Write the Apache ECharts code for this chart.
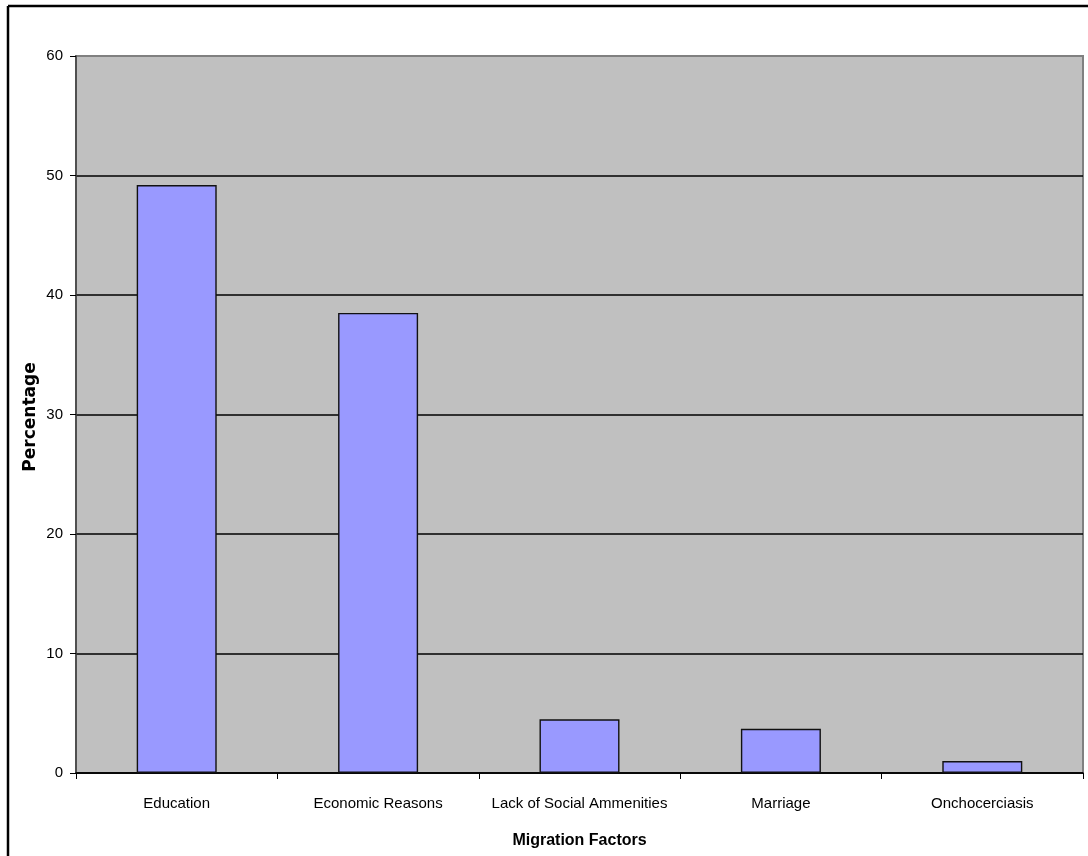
<!DOCTYPE html>
<html>
<head>
<meta charset="utf-8">
<script src="https://cdn.jsdelivr.net/npm/echarts@6/dist/echarts.min.js"></script>
<style>
html,body{margin:0;padding:0;background:#fff;}
#chart{width:1088px;height:856px;}
</style>
</head>
<body>
<div id="chart"></div>
<script>
var categories = ['Education', 'Economic Reasons', 'Lack of Social Ammenities', 'Marriage', 'Onchocerciasis'];
var percentages = [49.2, 38.5, 4.5, 3.7, 1.0];
var yTicks = { min: 0, max: 60, interval: 10 };
var xTitle = 'Migration Factors';
var yTitle = 'Percentage';

var FONT = "'Liberation Sans', Arial, sans-serif";
var chart = echarts.init(document.getElementById('chart'), null, { renderer: 'canvas' });
chart.setOption({
  backgroundColor: '#ffffff',
  animation: false,
  grid: {
    left: 76, top: 56, width: 1007, height: 717,
    show: true, backgroundColor: '#C0C0C0', borderColor: '#808080', borderWidth: 2
  },
  xAxis: {
    type: 'category',
    data: categories,
    boundaryGap: true,
    name: xTitle,
    nameLocation: 'middle',
    nameGap: 60,
    nameTextStyle: { fontFamily: FONT, fontWeight: 'bold', fontSize: 16, color: '#000' },
    axisLine: { lineStyle: { color: '#000', width: 1.5 } },
    axisTick: { show: true, alignWithLabel: false, length: 6, lineStyle: { color: '#000' } },
    axisLabel: { fontFamily: FONT, fontSize: 15, color: '#000', margin: 23, interval: 0 },
    splitLine: { show: false }
  },
  yAxis: {
    type: 'value',
    min: yTicks.min, max: yTicks.max, interval: yTicks.interval,
    axisLine: { show: true, lineStyle: { color: '#404040', width: 1.5 } },
    axisTick: { show: true, length: 6, lineStyle: { color: '#000' } },
    axisLabel: { fontFamily: FONT, fontSize: 15, color: '#000', margin: 13 },
    splitLine: { show: true, showMaxLine: false, lineStyle: { color: '#000', width: 1.5 } }
  },
  series: [{
    type: 'bar',
    data: percentages,
    barWidth: 80,
    itemStyle: { color: '#9999FF', borderColor: '#111', borderWidth: 1.4 }
  }],
  graphic: [
    { type: 'line', shape: { x1: 8, y1: 6, x2: 8, y2: 856 }, style: { stroke: '#000', lineWidth: 2.5 }, z: 100 },
    { type: 'line', shape: { x1: 8, y1: 6, x2: 1088, y2: 6 }, style: { stroke: '#000', lineWidth: 2.5 }, z: 100 },
    { type: 'text', x: 31, y: 417, rotation: Math.PI / 2, z: 100,
      style: { text: yTitle, font: "bold 17px 'DejaVu Sans', sans-serif", fill: '#000', align: 'center', verticalAlign: 'middle' } }
  ]
});
</script>
</body>
</html>
